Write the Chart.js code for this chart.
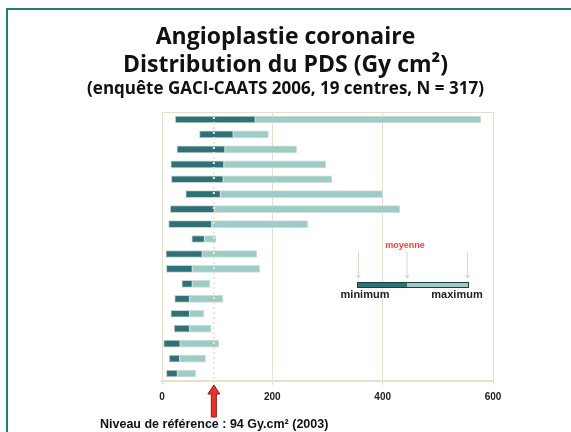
<!DOCTYPE html>
<html lang="fr">
<head>
<meta charset="UTF-8">
<title>Angioplastie coronaire - Distribution du PDS</title>
<style>
    body { margin: 0; background: #fff; }
    #wrap { position: relative; width: 571px; height: 432px; overflow: hidden; }
    #frame {
        position: absolute; left: 6px; top: 8px; width: 570px; height: 430px;
        border-top: 2px solid #1f7d7a; border-left: 2px solid #1f7d7a;
    }
    canvas { position: absolute; left: 0; top: 0; }
</style>
<script src="https://cdn.jsdelivr.net/npm/chart.js"></script>
</head>
<body>
<div id="wrap">
    <div id="frame"></div>
    <canvas id="chart" width="571" height="432"></canvas>
</div>
<script>
    // 18 centres, ordered as in the survey slide (top to bottom)
    const centres = ['C1', 'C2', 'C3', 'C4', 'C5', 'C6', 'C7', 'C8', 'C9',
                     'C10', 'C11', 'C12', 'C13', 'C14', 'C15', 'C16', 'C17', 'C18'];
    const minimum = [24, 68, 27, 16, 17, 43, 15, 12, 54, 7, 8, 36, 23, 16, 22, 3, 13, 8];
    const moyenne = [169, 129, 114, 112, 111, 106, 95, 90, 77, 73, 55, 55, 50, 50, 50, 33, 32, 28];
    const maximum = [578, 193, 244, 297, 308, 400, 431, 264, 98, 172, 177, 87, 110, 76, 89, 103, 79, 61];
    const xTicks = [0, 200, 400, 600];
    const niveauReference = 94;

    const dark = '#2e7277';
    const light = '#9dccc5';
    const beige = '#e4e1cf';

    // dotted reference line, plot frame, legend box and red arrow
    const annotations = {
        id: 'annotations',
        afterDatasetsDraw(chart) {
            const ctx = chart.ctx;
            const area = chart.chartArea;
            const x = chart.scales.x;
            const refX = x.getPixelForValue(niveauReference);

            ctx.save();
            // top border of plot
            ctx.strokeStyle = beige;
            ctx.lineWidth = 1;
            ctx.beginPath();
            ctx.moveTo(area.left, area.top + 0.5);
            ctx.lineTo(area.right, area.top + 0.5);
            ctx.stroke();

            // dotted line at the reference level
            ctx.strokeStyle = '#ebe8d6';
            ctx.lineWidth = 2;
            ctx.setLineDash([2, 3]);
            ctx.beginPath();
            ctx.moveTo(refX, area.top);
            ctx.lineTo(refX, area.bottom);
            ctx.stroke();
            ctx.setLineDash([]);

            // legend inset
            const lx = area.left + 195, lw = 111, ly = area.top + 170;
            const lmid = lx + 50;
            ctx.fillStyle = dark;
            ctx.fillRect(lx, ly, lmid - lx, 6);
            ctx.fillStyle = light;
            ctx.fillRect(lmid, ly, lx + lw - lmid, 6);
            ctx.strokeStyle = '#1d3f42';
            ctx.lineWidth = 1;
            ctx.strokeRect(lx + 0.5, ly + 0.5, lw, 5);

            ctx.strokeStyle = '#dcd9c4';
            ctx.fillStyle = '#dcd9c4';
            [lx + 1.5, lmid, lx + lw - 0.5].forEach(ax => {
                ctx.beginPath();
                ctx.moveTo(ax, ly - 30);
                ctx.lineTo(ax, ly - 5);
                ctx.stroke();
                ctx.beginPath();
                ctx.moveTo(ax - 2.5, ly - 7);
                ctx.lineTo(ax + 2.5, ly - 7);
                ctx.lineTo(ax, ly - 3);
                ctx.closePath();
                ctx.fill();
            });

            ctx.textBaseline = 'middle';
            ctx.textAlign = 'center';
            ctx.fillStyle = '#ff3b3b';
            ctx.font = 'bold 9px "Liberation Sans"';
            ctx.fillText('moyenne', lmid - 2, ly - 36);
            ctx.fillStyle = '#222';
            ctx.font = 'bold 11px "Liberation Sans"';
            ctx.fillText('minimum', lx + 8, ly + 13);
            ctx.fillText('maximum', lx + lw - 11, ly + 13);

            // red arrow under the axis
            const top = area.bottom + 4, bottom = area.bottom + 36;
            ctx.fillStyle = '#e8332b';
            ctx.strokeStyle = '#8e1d16';
            ctx.lineWidth = 1;
            ctx.beginPath();
            ctx.moveTo(refX, top);
            ctx.lineTo(refX + 6, top + 9);
            ctx.lineTo(refX + 2.5, top + 9);
            ctx.lineTo(refX + 2.5, bottom);
            ctx.lineTo(refX - 2.5, bottom);
            ctx.lineTo(refX - 2.5, top + 9);
            ctx.lineTo(refX - 6, top + 9);
            ctx.closePath();
            ctx.fill();
            ctx.stroke();

            ctx.textAlign = 'left';
            ctx.fillStyle = '#111';
            ctx.font = 'bold 12.5px "Liberation Sans"';
            ctx.fillText('Niveau de référence : 94 Gy.cm² (2003)', 100, 425);
            ctx.restore();
        }
    };

    new Chart(document.getElementById('chart'), {
        type: 'bar',
        data: {
            labels: centres,
            datasets: [{
                label: 'minimum - moyenne',
                data: minimum.map((m, i) => [m, moyenne[i]]),
                backgroundColor: dark,
                borderColor: '#c8d2cf',
                borderWidth: 1,
                borderSkipped: false,
                barThickness: 7,
                grouped: false
            }, {
                label: 'moyenne - maximum',
                data: moyenne.map((m, i) => [m, maximum[i]]),
                backgroundColor: light,
                borderColor: '#d3dcd9',
                borderWidth: 1,
                borderSkipped: false,
                barThickness: 7,
                grouped: false
            }]
        },
        options: {
            indexAxis: 'y',
            responsive: false,
            animation: false,
            layout: { padding: { left: 0, right: 0, top: 0, bottom: 0 } },
            scales: {
                x: {
                    min: 0,
                    max: 600,
                    afterBuildTicks: axis => { axis.ticks = xTicks.map(v => ({ value: v })); },
                    afterFit: s => { s.height = 51; },
                    grid: { color: beige, lineWidth: 1, tickLength: 4, tickColor: beige },
                    border: { color: beige, width: 2 },
                    ticks: {
                        color: '#222',
                        padding: 6,
                        font: { family: 'Liberation Sans', weight: 'bold', size: 10 }
                    }
                },
                y: {
                    grid: { display: false },
                    border: { display: false },
                    ticks: { display: false },
                    afterFit: s => { s.width = 162; }
                },
                // empty axis that keeps the margin on the right of the plot
                yRight: {
                    type: 'category',
                    position: 'right',
                    grid: { display: false },
                    border: { display: false },
                    ticks: { display: false },
                    afterFit: s => { s.width = 78; }
                }
            },
            plugins: {
                legend: { display: false },
                tooltip: { enabled: false },
                title: {
                    display: true,
                    text: ['Angioplastie coronaire', 'Distribution du PDS (Gy cm²)'],
                    color: '#111',
                    font: { family: 'Open Sans', weight: 'bold', size: 23, lineHeight: 1.2 },
                    padding: { top: 24, bottom: 0 }
                },
                subtitle: {
                    display: true,
                    text: '(enquête GACI-CAATS 2006, 19 centres, N = 317)',
                    color: '#111',
                    font: { family: 'Open Sans', weight: 'bold', size: 17, lineHeight: 1.2 },
                    padding: { top: 0, bottom: 12.4 }
                }
            }
        },
        plugins: [annotations]
    });
</script>
</body>
</html>
